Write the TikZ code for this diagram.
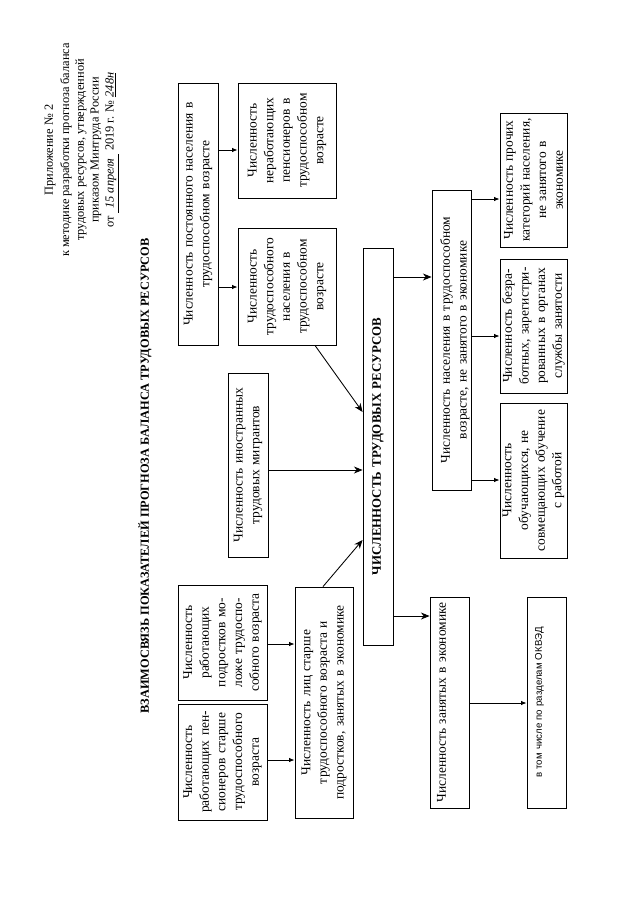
\documentclass[tikz,border=0pt]{standalone}
\usepackage{fontspec}
\setmainfont{Liberation Serif}
\newfontfamily\okfont{Liberation Sans}
\usetikzlibrary{arrows.meta}
\newcommand\boxfont{\fontsize{12.5}{15.5}\selectfont}
\newcommand\pbox[7][]{%
  \node[bx,#1,minimum width={(#6-#4)*0.93pt},minimum height={(#5-#3)*0.93pt},
        text width={(#6-#4-10)*0.93pt}] (#2) at ({(#3+#5)/2},{(#4+#6)/2}) {#7};}
\tikzset{
  bx/.style={draw, line width=0.8pt, rotate=90, align=center, inner sep=1pt, font=\boxfont},
  hdr/.style={rotate=90, inner sep=0pt, font=\fontsize{11.5}{13}\selectfont},
  ttl/.style={rotate=90, inner sep=0pt, font=\fontsize{11.5}{14}\selectfont\bfseries},
  sarr/.style={line width=0.8pt, -{Latex[length=5pt,width=4pt]}},
  barr/.style={line width=0.8pt, -{Stealth[length=8pt,width=6.5pt,inset=2.5pt]}},
}
\begin{document}
\begin{tikzpicture}[x=0.93pt,y=-0.93pt]
\useasboundingbox[fill=white] (0,0) rectangle (640,905);
% header
\node[hdr] (h1) at (50,150) {Приложение № 2};
\node[hdr] (h2) at (66,150) {к методике разработки прогноза баланса};
\node[hdr] (h3) at (81,150) {трудовых ресурсов, утвержденной};
\node[hdr] (h4) at (96,150) {приказом Минтруда России};
\node[hdr] (h5) at (112,150) {от \underline{\hspace{4pt}\textit{15 апреля}\hspace{4pt}} 2019 г. № \underline{\textit{248н}}};
% title
\node[ttl] (title) at (145,476) {ВЗАИМОСВЯЗЬ ПОКАЗАТЕЛЕЙ ПРОГНОЗА БАЛАНСА ТРУДОВЫХ РЕСУРСОВ};
% boxes
\pbox{post}{178}{83}{218}{345}{Численность постоянного населения в\\трудоспособном возрасте}
\pbox{nerab}{238}{83}{336}{198}{Численность\\неработающих\\пенсионеров в\\трудоспособном\\возрасте}
\pbox{trud}{238}{228}{336}{345}{Численность\\трудоспособного\\населения в\\трудоспособном\\возрасте}
\pbox{migr}{228}{373}{268}{557}{Численность иностранных\\трудовых мигрантов}
\pbox[font=\fontsize{12}{14}\selectfont\bfseries]{main}{363}{248}{393}{645}{ЧИСЛЕННОСТЬ ТРУДОВЫХ РЕСУРСОВ}
\pbox{podr}{178}{585}{267}{700}{Численность\\работающих\\подростков мо-\\ложе трудоспо-\\собного возраста}
\pbox{pens}{178}{704}{267}{820}{Численность\\работающих пен-\\сионеров старше\\трудоспособного\\возраста}
\pbox{lic}{295}{587}{353}{818}{Численность лиц старше\\трудоспособного возраста и\\подростков, занятых в экономике}
\pbox[text depth=12pt]{nezan}{432}{190}{471}{490}{Численность населения в трудоспособном\\возрасте, не занятого в экономике}
\pbox{proch}{500}{113}{567}{247}{Численность прочих\\категорий населения,\\не занятого в\\экономике}
\pbox{bezr}{500}{259}{567}{393}{Численность безра-\\ботных, зарегистри-\\рованных в органах\\службы занятости}
\pbox{obuch}{500}{403}{567}{558}{Численность\\обучающихся, не\\совмещающих обучение\\с работой}
\pbox[text depth=15pt]{zan}{430}{597}{469}{808}{Численность занятых в экономике}
\pbox[text depth=15pt,font=\okfont\fontsize{9}{11}\selectfont]{okved}{527}{597}{566}{808}{в том числе по разделам ОКВЭД}
% connectors
\draw[sarr] (post.south |- 0,150) -- (nerab.north |- 0,150);
\draw[sarr] (post.south |- 0,287) -- (trud.north |- 0,287);
\draw[barr] (315,0 |- trud.west) -- (main.north |- 0,412);
\draw[barr] (migr.south |- 0,470) -- (main.north |- 0,470);
\draw[barr] (323,0 |- lic.east) -- (main.north |- 0,540);
\draw[barr] (main.south |- 0,277) -- (nezan.north |- 0,277);
\draw[barr] (main.south |- 0,616) -- (zan.north |- 0,616);
\draw[sarr] (nezan.south |- 0,199) -- (proch.north |- 0,199);
\draw[sarr] (nezan.south |- 0,336) -- (bezr.north |- 0,336);
\draw[sarr] (nezan.south |- 0,480) -- (obuch.north |- 0,480);
\draw[sarr] (zan.south |- 0,703) -- (okved.north |- 0,703);
\draw[sarr] (podr.south |- 0,644) -- (lic.north |- 0,644);
\draw[sarr] (pens.south |- 0,760) -- (lic.north |- 0,760);
\end{tikzpicture}
\end{document}
